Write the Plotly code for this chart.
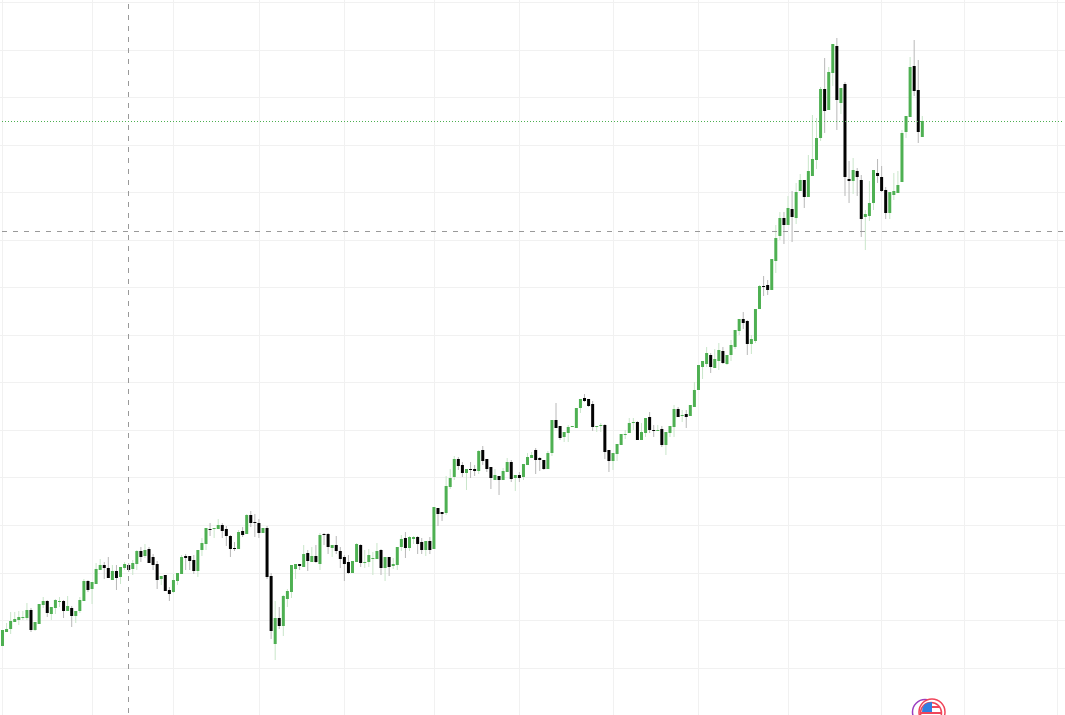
import plotly.graph_objects as go

direction = list(
    "GGGGGGGBGG" "GBGGGBGBGG" "GBGGGBBGBG" "GBGGBGBBBG" "BBGGGBBBGG" "GBGG"
    "BBBBGB" "GBBBGBBGBG" "GGGBGBGBGB" "BGBBBBGGBG" "GGGBGBGGGB" "GGBBGBGBBG"
    "GGBBGBBGBB" "BGBGGBGBGG" "GBBBGGBBGG" "GGGBBBGGBB" "GGGGGGBGGB"
    "BGBGGGBGBG" "GGGGBGGBGG" "GGBBGGGBBG" "GGBGBGGBGG" "GGBGGBGBBG"
    "BBGGGBBBGG" "GGGGBBG"
)
body_top = [630,629,621,619,617,617,610,610,622,604,601,601,607,600,601,601,606,608,611,600,581,581,582,569,565,565,568,571,571,567,564,565,563,551,551,550,549,557,564,576,575,590,580,573,557,556,556,560,550,543,528,529,528,525,
            525,529,536,548,532,531,515,515,522,523,528,528,576,618,618,596,591,565,564,564,554,553,556,556,535,534,534,545,545,551,557,562,561,544,545,562,555,558,551,550,557,557,564,547,539,538,537,537,537,542,541,541,507,508,512,486,
            478,459,459,465,469,469,469,451,450,459,467,475,476,471,462,462,475,475,464,457,455,450,458,460,453,420,420,426,432,427,426,408,399,398,399,404,426,425,425,450,453,444,434,434,423,422,422,432,418,417,430,430,429,432,426,409,409,415,414,405,390,
            365,361,353,355,359,350,351,355,345,330,319,319,321,339,309,286,286,285,259,238,218,218,208,209,192,180,180,171,159,138,89,89,72,44,46,88,84,179,170,171,180,214,203,170,173,177,190,192,191,185,133,116,67,66,90,121]
body_bot = [646,632,629,622,620,618,618,630,630,624,605,613,614,608,602,611,611,616,616,611,601,590,589,584,570,568,578,580,578,577,568,570,569,564,557,556,563,565,580,579,591,594,592,581,574,558,561,571,571,550,544,530,529,529,
            531,536,549,549,549,535,534,523,523,533,533,577,631,644,626,626,599,592,569,566,567,561,562,562,564,535,547,548,551,559,564,573,573,562,563,563,562,559,559,568,568,567,566,565,547,548,548,539,544,550,550,550,549,514,514,513,
            487,477,466,473,473,470,471,471,461,469,478,480,480,480,472,479,478,478,477,465,458,460,460,469,469,453,428,438,437,433,427,428,408,401,406,427,427,426,452,461,461,454,445,435,433,423,440,440,433,430,431,431,445,445,433,427,417,416,417,416,407,
            390,367,364,367,368,361,363,364,355,347,331,323,344,344,341,309,287,290,290,261,236,225,225,217,218,191,197,197,176,160,138,111,110,73,100,103,177,181,181,177,219,217,216,203,176,191,213,213,195,193,182,132,117,91,132,137]
wick_top = [630,623,612,612,611,611,603,608,622,604,597,600,607,599,597,600,596,606,611,597,579,580,582,563,559,562,557,565,565,567,562,563,560,550,547,544,547,554,561,576,575,587,574,573,555,554,556,555,550,538,528,523,528,519,
            523,526,535,542,530,527,514,511,514,519,528,526,573,601,607,595,589,565,564,564,545,550,547,545,533,533,533,545,536,547,555,555,561,543,544,550,549,552,543,549,557,557,558,547,535,532,536,536,536,538,541,537,507,508,512,476,
            469,456,457,462,469,462,465,450,446,459,467,469,476,468,458,460,475,472,464,453,452,448,457,460,451,420,403,426,432,425,426,408,399,394,399,401,426,423,424,450,453,444,434,430,418,418,421,423,418,412,425,425,426,432,426,405,407,410,410,405,382,
            365,361,347,353,349,343,347,355,340,330,319,312,320,335,309,285,276,280,259,225,212,212,196,191,183,174,180,155,115,118,87,58,67,44,38,88,82,161,158,168,175,210,181,170,159,166,187,192,173,171,130,116,57,40,60,116]
wick_bot = [646,632,634,622,625,620,620,632,631,624,608,617,620,614,607,618,611,627,623,613,601,592,604,584,570,579,578,580,590,584,570,572,575,570,562,558,563,570,589,585,591,601,593,585,574,570,570,574,577,556,550,536,538,529,
            538,546,557,551,549,537,534,527,537,538,533,579,639,660,629,636,607,598,579,570,567,571,562,563,570,545,554,557,554,568,581,574,573,562,567,568,567,575,559,575,581,576,569,570,551,558,551,544,554,554,556,554,549,526,521,515,
            489,480,470,477,490,478,476,474,465,472,489,480,495,480,472,482,491,482,480,465,458,474,471,470,469,456,428,440,442,442,427,428,413,402,407,431,432,432,459,472,470,461,445,439,433,430,440,440,437,433,437,431,447,455,437,437,417,422,428,416,407,
            390,379,367,373,368,370,364,365,361,349,335,329,355,354,343,309,296,295,290,273,240,244,225,242,224,191,208,197,176,169,141,133,110,86,130,114,196,203,194,196,237,250,221,210,183,192,219,219,200,193,182,138,117,96,143,137]

# Horizontal and vertical grid positions, dashed and dotted level markers
grid_levels = [2.3,50,97.4,145,192.4,240,287.6,335,382.3,430,477.4,525,573,620.5,668]
grid_columns = [2.5,92.5,173.5,259.5,344.5,434.5,519.5,613.5,698.5,788.5,881.5,964.5,1057.5]
dashed_level = 231.5
dotted_level = 121.5
dashed_column = 128.5

PX_W, PX_H = 1065, 715
STEP = 4.07
X0 = 2.5

x = list(range(len(body_top)))
H = PX_H
GREEN, BLACK = "rgba(76,175,80,0.99)", "rgba(0,0,0,0.99)"
WICK_G, WICK_B = "rgba(200,230,201,0.99)", "rgba(183,183,183,0.99)"

fig = go.Figure()
fig.add_bar(x=x, base=[H - v for v in wick_bot],
            y=[b - t for t, b in zip(wick_top, wick_bot)],
            width=1 / STEP,
            marker=dict(color=[WICK_G if d == "G" else WICK_B for d in direction], line_width=0),
            hoverinfo="skip")
fig.add_bar(x=x, base=[H - v for v in body_bot],
            y=[b - t for t, b in zip(body_top, body_bot)],
            width=3 / STEP,
            marker=dict(color=[GREEN if d == "G" else BLACK for d in direction], line_width=0),
            hoverinfo="skip")


def px(v):
    return v / PX_W


def py(v):
    return 1 - v / PX_H


DASH = "5px,6px"
shapes = [
    dict(type="line", xref="paper", x0=px(2), x1=px(1063), yref="paper", y0=py(dashed_level), y1=py(dashed_level),
         line=dict(color="#999999", width=1, dash=DASH)),
    dict(type="line", xref="paper", x0=px(2), x1=px(1063), yref="paper", y0=py(dotted_level), y1=py(dotted_level),
         line=dict(color="#4caf50", width=1, dash="1px,2px")),
    dict(type="line", xref="paper", x0=px(dashed_column), x1=px(dashed_column), yref="paper", y0=py(4), y1=py(715),
         line=dict(color="#999999", width=1, dash=DASH)),
]


def circ(cx, cy, r, **kw):
    return dict(type="circle", xref="paper", yref="paper",
                x0=px(cx - r), x1=px(cx + r), y0=py(cy + r), y1=py(cy - r), **kw)


def path(points, **kw):
    (sx, sy), (qx, qy), (ex, ey), (lx, ly) = points
    d = (f"M {px(sx)} {py(sy)} Q {px(qx)} {py(qy)} {px(ex)} {py(ey)} "
         f"L {px(lx)} {py(ly)} Z")
    return dict(type="path", xref="paper", yref="paper", path=d, **kw)


shapes += [
    circ(925, 712, 12.5, line=dict(color="#9c3fc0", width=1.5), fillcolor="rgba(0,0,0,0)"),
    circ(932, 712, 13, line=dict(color="#f0455a", width=1.5), fillcolor="white"),
    circ(931, 713, 10.5, line=dict(color="#f0455a", width=1.5), fillcolor="white"),
    path([(922, 712), (922, 702), (932, 702), (932, 712)], fillcolor="#2f7fe0", line_width=0),
    dict(type="rect", xref="paper", yref="paper", x0=px(932), x1=px(939.5), y0=py(708), y1=py(706),
         fillcolor="#f0455a", line_width=0),
    dict(type="rect", xref="paper", yref="paper", x0=px(921), x1=px(941), y0=py(714), y1=py(712),
         fillcolor="#f0455a", line_width=0),
]

fig.update_layout(
    width=PX_W, height=PX_H, margin=dict(l=0, r=0, t=0, b=0),
    plot_bgcolor="white", paper_bgcolor="white", showlegend=False, barmode="overlay",
    shapes=shapes,
    xaxis=dict(range=[-X0 / STEP, (PX_W - X0) / STEP], tickmode="array",
               tickvals=[(c - X0) / STEP for c in grid_columns],
               showticklabels=False, ticks="", showgrid=True, gridcolor="#f1f1f1", gridwidth=1,
               zeroline=False, showline=False, fixedrange=True),
    yaxis=dict(range=[0, H], tickmode="array", tickvals=[H - v for v in grid_levels],
               showticklabels=False, ticks="", showgrid=True, gridcolor="#f1f1f1", gridwidth=1,
               zeroline=False, showline=False, fixedrange=True),
)
fig.write_html("out.html", config={"displayModeBar": False},
               post_script="document.body.style.margin='0';")
